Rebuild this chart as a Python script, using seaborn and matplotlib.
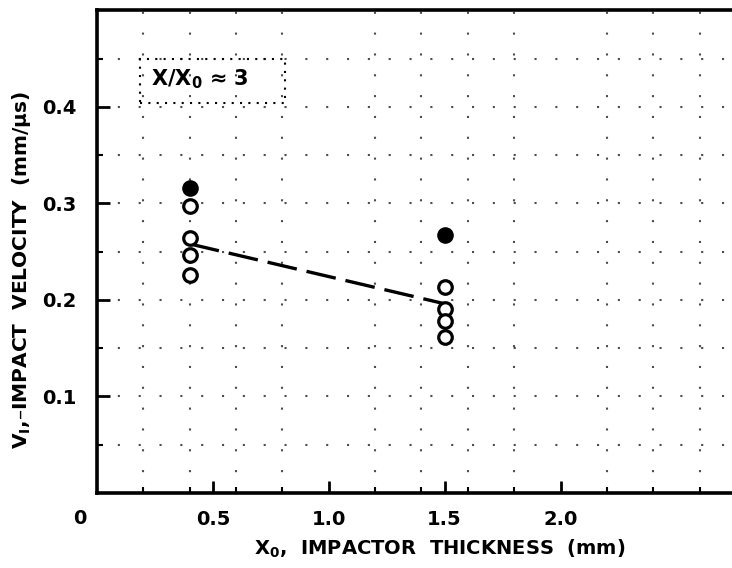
import matplotlib
matplotlib.use("Agg")
import matplotlib.pyplot as plt
from matplotlib.ticker import MultipleLocator, FormatStrFormatter
from matplotlib.patches import Rectangle
import seaborn as sns
import pandas as pd

# ---- data ----
thickness_filled = [0.4, 1.5]
velocity_filled = [0.316, 0.267]
thickness_open = [0.4, 0.4, 0.4, 0.4, 1.5, 1.5, 1.5, 1.5]
velocity_open = [0.297, 0.264, 0.247, 0.226, 0.213, 0.191, 0.178, 0.162]
fit_x = [0.4, 1.5]
fit_y = [0.258, 0.196]
x_ticks = [0.5, 1.0, 1.5, 2.0]
y_ticks = [0.1, 0.2, 0.3, 0.4]

sns.set_style("ticks")
plt.rcParams["font.family"] = ["DejaVu Sans"]
plt.rcParams["font.weight"] = "bold"
plt.rcParams["text.color"] = "black"
plt.rcParams["axes.labelcolor"] = "black"
plt.rcParams["xtick.color"] = "black"
plt.rcParams["ytick.color"] = "black"

fig = plt.figure(figsize=(7.32, 5.68), dpi=100)
ax = fig.add_axes([0.1325, 0.132, 0.8675, 0.850])

df_fit = pd.DataFrame({"x": fit_x, "y": fit_y})
df_f = pd.DataFrame({"x": thickness_filled, "y": velocity_filled})
df_o = pd.DataFrame({"x": thickness_open, "y": velocity_open})

sns.lineplot(data=df_fit, x="x", y="y", ax=ax, color="black", lw=2.4,
             dashes=False, zorder=3)
ax.lines[-1].set_dashes((9, 3))
sns.scatterplot(data=df_o, x="x", y="y", ax=ax, marker="o", s=95,
                facecolor="white", edgecolor="black", linewidth=2.3, zorder=4)
sns.scatterplot(data=df_f, x="x", y="y", ax=ax, marker="o", s=120,
                color="black", edgecolor="black", linewidth=1, zorder=4)

ax.set_xlim(0, 2.74)
ax.set_ylim(0, 0.50)
ax.set_xticks(x_ticks)
ax.set_yticks(y_ticks)
ax.xaxis.set_major_formatter(FormatStrFormatter("%.1f"))
ax.yaxis.set_major_formatter(FormatStrFormatter("%.1f"))
ax.xaxis.set_minor_locator(MultipleLocator(0.2))
ax.yaxis.set_minor_locator(MultipleLocator(0.05))

ax.tick_params(which="major", direction="in", length=9, width=2,
               labelsize=14, pad=12, colors="black")
ax.tick_params(which="minor", direction="in", length=4, width=1.5, colors="black")
ax.tick_params(axis="y", pad=15)
for lab in ax.get_xticklabels() + ax.get_yticklabels():
    lab.set_fontweight("bold")

# graph-paper style dotted grid
ax.grid(which="minor", axis="x", color="black", linestyle=(0, (1, 9)), lw=1.5, alpha=0.7)
ax.grid(which="both", axis="y", color="black", linestyle=(0, (1, 9)), lw=1.5, alpha=0.7)
ax.set_axisbelow(True)

for side in ["left", "bottom", "top"]:
    ax.spines[side].set_linewidth(2.6)
    ax.spines[side].set_color("black")
ax.spines["right"].set_visible(False)

ax.set_xlabel("X$_\\mathregular{0}$,  IMPACTOR  THICKNESS  (mm)", fontsize=14,
              fontweight="bold")
ax.set_ylabel("V$_\\mathregular{I}$,\u2013IMPACT  VELOCITY  (mm/\u03bcs)", fontsize=14.5,
              fontweight="bold")
ax.xaxis.set_label_coords(0.54, -0.092)
ax.yaxis.set_label_coords(-0.100, 0.462)

ax.text(-0.027, -0.052, "0", transform=ax.transAxes, ha="center", va="center",
        fontsize=14, fontweight="bold")

# inset annotation box
ax.add_patch(Rectangle((0.068, 0.807), 0.228, 0.093, transform=ax.transAxes,
                       fill=False, edgecolor="black", lw=1.5, linestyle=(0, (1, 3)),
                       zorder=2))
ax.text(0.085, 0.857, "X/X$_\\mathregular{0}$ \u2248 3", transform=ax.transAxes,
        ha="left", va="center", fontsize=15, fontweight="bold")

fig.savefig("out.png", dpi=100)
